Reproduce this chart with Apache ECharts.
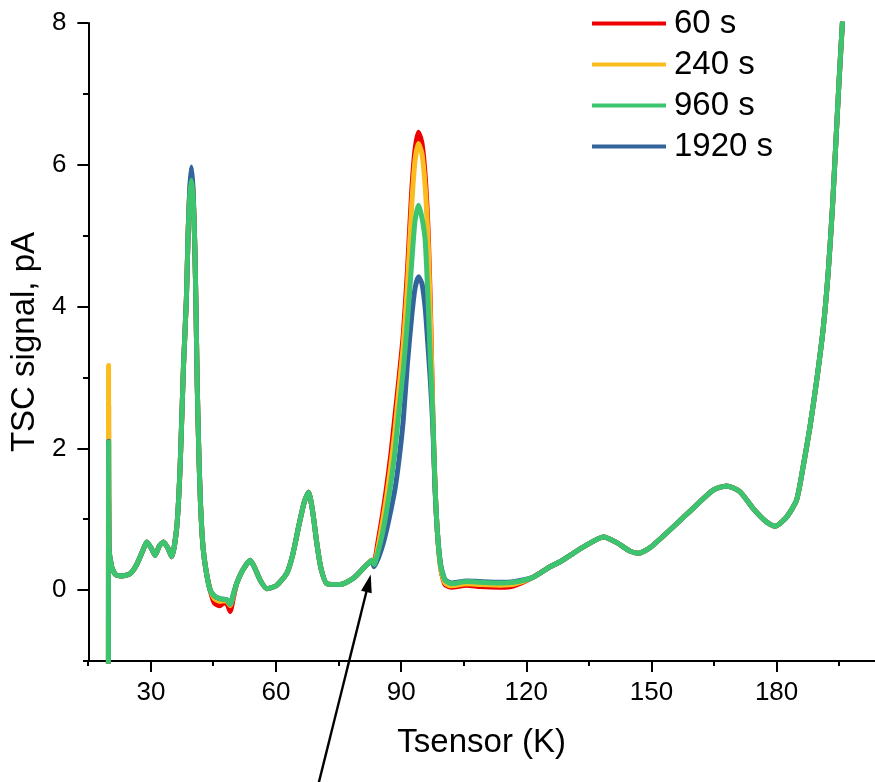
<!DOCTYPE html>
<html><head><meta charset="utf-8">
<script src="https://cdn.jsdelivr.net/npm/echarts@6/dist/echarts.min.js"></script>
<style>html,body{margin:0;padding:0;background:#fff}#c{width:875px;height:782px}</style>
</head><body><div id="c"></div>
<script>
// Temperature samples (K)
const tempK = [19.8,19.85,19.95,20.6,21.5,23,25,26.5,28,29,30,31,32,33,34,35,36.2,37,37.8,38.5,38.9,39.3,39.7,40.1,40.5,40.8,41.1,41.5,41.9,42.5,43.2,44.2,45.2,46.5,47.5,48.3,49,49.8,50.6,52,53.8,55,56.2,57.8,60,62.6,64,65.5,66.8,67.8,68.8,69.8,70.8,72.2,75.4,78.6,81.8,83,83.5,84.5,85.5,86.5,87.5,88.5,89.5,90.5,91.5,92.5,93.3,94.15,95,95.8,96.5,97,97.6,98.1,98.7,99.5,100.5,102,105.7,109,113.7,117,121.6,125.7,128.1,133.7,138.5,141.7,144.9,146.9,149.7,155.2,160.8,164.8,168,171.2,174.4,177.6,179.6,182.4,184.8,186.4,188,189.6,191.2,192.4,193.4,194.2,195,195.8];

// TSC signal (pA)
const sig60 = [-3,2.6,0.6,0.33,0.22,0.2,0.23,0.35,0.55,0.68,0.6,0.49,0.62,0.68,0.6,0.47,0.89,1.74,3.15,4.1,5.0,5.6,5.85,5.6,4.9,4.0,2.9,1.9,1.2,0.6,0.28,0.0,-0.18,-0.22,-0.18,-0.2,-0.3,-0.1,0.1,0.28,0.42,0.3,0.14,0.02,0.06,0.24,0.5,0.92,1.25,1.38,1.1,0.65,0.3,0.09,0.08,0.17,0.36,0.42,0.4,0.7,1.05,1.45,1.9,2.45,3.0,3.6,4.5,5.6,6.2,6.46,6.3,5.8,5.0,4.0,2.44,1.5,0.8,0.3,0.08,0.04,0.07,0.05,0.04,0.06,0.18,0.33,0.4,0.61,0.75,0.67,0.55,0.52,0.6,0.89,1.2,1.41,1.47,1.39,1.15,0.96,0.9,1.03,1.27,1.75,2.3,2.95,3.7,4.5,5.4,6.3,7.2,8.02];
const sig240 = [-3,3.17,0.6,0.33,0.22,0.2,0.23,0.35,0.55,0.68,0.6,0.49,0.62,0.68,0.6,0.47,0.89,1.74,3.15,4.1,5.0,5.62,5.87,5.6,4.9,4.0,2.9,1.9,1.2,0.6,0.28,0.0,-0.12,-0.16,-0.15,-0.16,-0.22,-0.07,0.1,0.28,0.42,0.3,0.14,0.02,0.06,0.24,0.5,0.92,1.25,1.38,1.1,0.65,0.3,0.09,0.08,0.17,0.36,0.42,0.38,0.62,0.95,1.32,1.75,2.25,2.85,3.45,4.3,5.4,6.05,6.3,6.15,5.65,4.85,3.85,2.44,1.5,0.8,0.3,0.1,0.06,0.09,0.08,0.07,0.08,0.18,0.33,0.4,0.61,0.75,0.67,0.55,0.52,0.6,0.89,1.2,1.41,1.47,1.39,1.15,0.96,0.9,1.03,1.27,1.75,2.3,2.95,3.7,4.5,5.4,6.3,7.2,8.02];
const sig960 = [-3,2.09,0.6,0.33,0.22,0.2,0.23,0.35,0.55,0.68,0.6,0.49,0.62,0.68,0.6,0.47,0.89,1.74,3.15,4.1,5.0,5.55,5.78,5.55,4.9,4.0,2.9,1.9,1.2,0.6,0.28,0.0,-0.08,-0.12,-0.13,-0.14,-0.2,-0.05,0.1,0.28,0.42,0.3,0.14,0.02,0.06,0.24,0.5,0.92,1.25,1.38,1.1,0.65,0.3,0.09,0.08,0.17,0.36,0.42,0.36,0.55,0.8,1.12,1.5,1.95,2.55,3.1,3.8,4.6,5.2,5.43,5.25,4.9,4.0,3.25,2.44,1.5,0.8,0.33,0.14,0.09,0.12,0.11,0.1,0.11,0.18,0.33,0.4,0.61,0.75,0.67,0.55,0.52,0.6,0.89,1.2,1.41,1.47,1.39,1.15,0.96,0.9,1.03,1.27,1.75,2.3,2.95,3.7,4.5,5.4,6.3,7.2,8.02];
const sig1920 = [-3,2.1,0.6,0.33,0.22,0.2,0.23,0.35,0.55,0.68,0.6,0.49,0.62,0.68,0.6,0.47,0.89,1.74,3.15,4.1,5.0,5.65,5.97,5.65,4.9,4.0,2.9,1.9,1.2,0.6,0.28,0.0,-0.08,-0.12,-0.13,-0.14,-0.2,-0.05,0.1,0.28,0.42,0.3,0.14,0.02,0.06,0.24,0.5,0.92,1.25,1.38,1.1,0.65,0.3,0.09,0.08,0.17,0.36,0.4,0.33,0.45,0.62,0.85,1.12,1.42,1.85,2.4,3.2,3.85,4.25,4.42,4.32,3.95,3.38,2.95,2.3,1.45,0.8,0.35,0.15,0.1,0.13,0.12,0.11,0.12,0.18,0.33,0.4,0.61,0.75,0.67,0.55,0.52,0.6,0.89,1.2,1.41,1.47,1.39,1.15,0.96,0.9,1.03,1.27,1.75,2.3,2.95,3.7,4.5,5.4,6.3,7.2,8.02];

const seriesNames = ['60 s','240 s','960 s','1920 s'];
const xMajorTicks = [30,60,90,120,150,180];
const xMinorTicks = [15,45,75,105,135,165,195];
const yMajorTicks = [0,2,4,6,8];
const yMinorTicks = [-1,1,3,5,7];
// Annotation arrow, data coordinates: [K, pA] tail -> tip
const arrowTail = [70.1, -2.75];
const arrowTip = [82.7, 0.22];

const FONT = "'Liberation Sans', Arial, sans-serif";
const colors = {'60 s':'#EE0000','240 s':'#FBBD1E','960 s':'#3DC46E','1920 s':'#33649C'};
const valuesByName = {'60 s':sig60,'240 s':sig240,'960 s':sig960,'1920 s':sig1920};
const drawOrder = ['60 s','240 s','1920 s','960 s'];

function zip(xs, ys){ return xs.map((x,i)=>[x, ys[i]]); }

const gridPos = {left:88, top:23, width:787, height:638};
const X_MIN = 15, X_MAX = 203.6, Y_MIN = -1, Y_MAX = 8;

const lineSeries = drawOrder.map(n => ({
  name: n, type: 'line', xAxisIndex: 0, yAxisIndex: 0,
  data: zip(tempK, valuesByName[n]),
  showSymbol: false, symbol: 'none', smooth: 0.2,
  color: colors[n],
  lineStyle: {color: colors[n], width: 5, join: 'round'},
  emphasis: {disabled: true}
}));

const arrowSeries = {
  name: 'annotation', type: 'custom', xAxisIndex: 0, yAxisIndex: 0,
  clip: false, silent: true, z: 10,
  data: [[arrowTail[0], arrowTail[1], arrowTip[0], arrowTip[1]]],
  encode: {x: [0,2], y: [1,3]},
  renderItem: function(params, api){
    const p0 = api.coord([api.value(0), api.value(1)]);
    const p1 = api.coord([api.value(2), api.value(3)]);
    const dx = p1[0]-p0[0], dy = p1[1]-p0[1];
    const len = Math.hypot(dx, dy);
    const ux = dx/len, uy = dy/len;
    const headLen = 18, headW = 5.5;
    const bx = p1[0]-ux*headLen, by = p1[1]-uy*headLen;
    return {type:'group', children:[
      {type:'line', shape:{x1:p0[0], y1:p0[1], x2:bx+ux*2, y2:by+uy*2}, style:{stroke:'#000', lineWidth:2.4}},
      {type:'polygon', shape:{points:[[p1[0],p1[1]],[bx-uy*headW, by+ux*headW],[bx+uy*headW, by-ux*headW]]}, style:{fill:'#000'}}
    ]};
  }
};

const option = {
  animation: false,
  backgroundColor: '#fff',
  textStyle: {fontFamily: FONT},
  grid: [Object.assign({}, gridPos), Object.assign({}, gridPos)],
  legend: {
    data: seriesNames, orient: 'vertical', left: 592, top: 7, padding: 0,
    itemWidth: 74, itemHeight: 4, itemGap: 8, icon: 'rect',
    textStyle: {fontSize: 33, lineHeight: 33, color: '#000', fontFamily: FONT, padding: [0,0,0,3]}
  },
  xAxis: [
    {
      type: 'value', gridIndex: 0, min: X_MIN, max: X_MAX,
      name: 'Tsensor (K)', nameLocation: 'middle', nameGap: 65,
      nameTextStyle: {fontSize: 33, color: '#000', fontFamily: FONT},
      axisLine: {onZero: false, lineStyle: {color: '#000', width: 2}},
      axisTick: {customValues: xMajorTicks, length: 11, lineStyle: {color: '#000', width: 2}},
      axisLabel: {customValues: xMajorTicks, fontSize: 26, color: '#000', margin: 19, fontFamily: FONT},
      splitLine: {show: false}
    },
    {
      type: 'value', gridIndex: 1, min: X_MIN, max: X_MAX,
      axisLine: {show: false, onZero: false},
      axisTick: {customValues: xMinorTicks, length: 5, lineStyle: {color: '#000', width: 2}},
      axisLabel: {show: false},
      splitLine: {show: false}
    }
  ],
  yAxis: [
    {
      type: 'value', gridIndex: 0, min: Y_MIN, max: Y_MAX,
      name: 'TSC signal, pA', nameLocation: 'middle', nameGap: 44,
      nameTextStyle: {fontSize: 33, color: '#000', fontFamily: FONT},
      axisLine: {onZero: false, lineStyle: {color: '#000', width: 2}},
      axisTick: {customValues: yMajorTicks, length: 11, lineStyle: {color: '#000', width: 2}},
      axisLabel: {customValues: yMajorTicks, fontSize: 26, color: '#000', margin: 22, fontFamily: FONT},
      splitLine: {show: false}
    },
    {
      type: 'value', gridIndex: 1, min: Y_MIN, max: Y_MAX,
      axisLine: {show: false, onZero: false},
      axisTick: {customValues: yMinorTicks, length: 5, lineStyle: {color: '#000', width: 2}},
      axisLabel: {show: false},
      splitLine: {show: false}
    }
  ],
  series: lineSeries.concat([arrowSeries])
};

const chart = echarts.init(document.getElementById('c'), null, {renderer: 'canvas'});
chart.setOption(option);
</script>
</body></html>
